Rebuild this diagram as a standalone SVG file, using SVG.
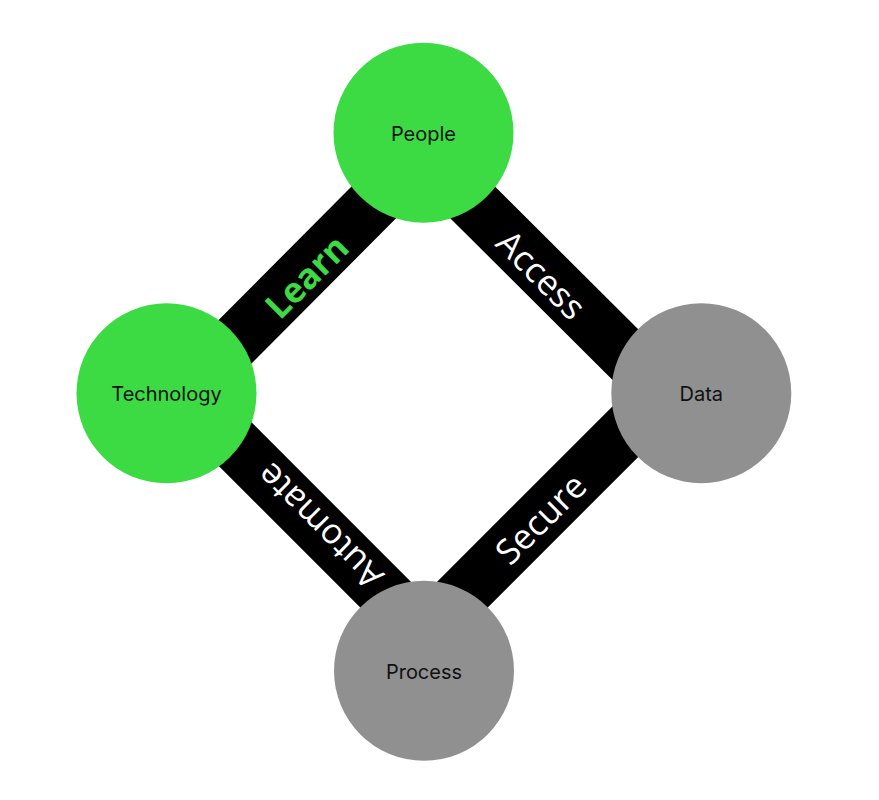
<svg xmlns="http://www.w3.org/2000/svg" width="879" height="800" viewBox="0 0 879 800">
  <style>
    .bar { fill: none; stroke: #000; stroke-width: 54; stroke-linejoin: miter; }
    .green { fill: #3cdb44; }
    .gray { fill: #909090; }
    .nlabel { font-family: Inter, "Noto Sans", "Liberation Sans", sans-serif; font-size: 20px; fill: #111; text-anchor: middle; }
    .elabel { font-family: "Open Sans", "Liberation Sans", sans-serif; font-size: 35px; fill: #fff; text-anchor: middle; dominant-baseline: central; }
    .learn { font-weight: bold; fill: #3cdb44; }
  </style>
  <rect width="879" height="800" fill="#fff"/>
  <g id="connectors">
    <polygon class="bar" points="423,153 664,393 424,633 184,393"/>
  </g>
  <g id="edge-labels">
    <text class="elabel learn" transform="translate(306,276) rotate(-45)">Learn</text>
    <text class="elabel" transform="translate(542,274) rotate(45)">Access</text>
    <text class="elabel" transform="translate(540,518) rotate(-45)">Secure</text>
    <text class="elabel" transform="translate(319,527) rotate(225)">Automate</text>
  </g>
  <g id="people">
    <circle class="green" cx="423.5" cy="132.7" r="90"/>
    <text class="nlabel" x="423.5" y="140.5">People</text>
  </g>
  <g id="technology">
    <circle class="green" cx="166.5" cy="393.3" r="90"/>
    <text class="nlabel" x="166.5" y="401">Technology</text>
  </g>
  <g id="data">
    <circle class="gray" cx="701.3" cy="393.2" r="90"/>
    <text class="nlabel" x="701.3" y="401">Data</text>
  </g>
  <g id="process">
    <circle class="gray" cx="424" cy="670.8" r="90"/>
    <text class="nlabel" x="424" y="678.5">Process</text>
  </g>
</svg>
